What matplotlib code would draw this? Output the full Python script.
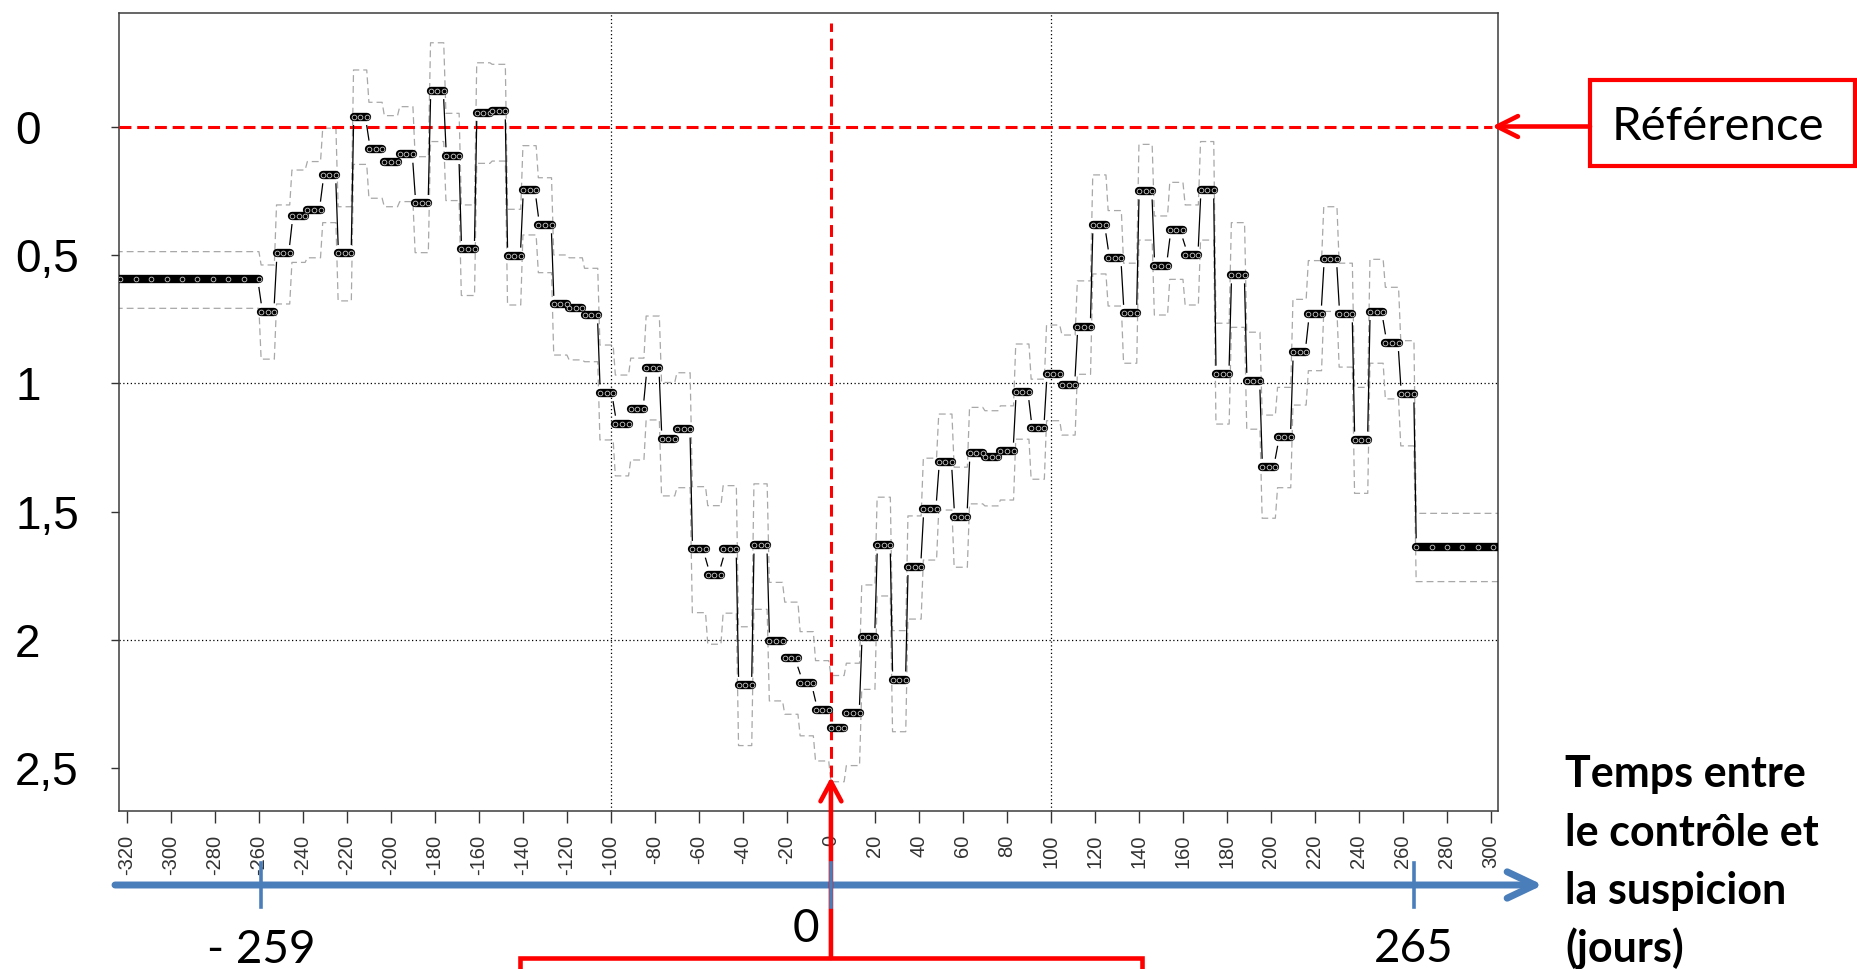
import matplotlib
matplotlib.use('Agg')
import matplotlib.pyplot as plt
from matplotlib import transforms
from matplotlib.patches import FancyArrowPatch, Rectangle, ArrowStyle
from matplotlib.lines import Line2D

W, H, DPI = 1858, 969, 100

# ---------------- data ----------------
# weekly bins (start day of each 7-day window)
week_start = [-259, -252, -245, -238, -231, -224, -217, -210, -203, -196,
              -189, -182, -175, -168, -161, -154, -147, -140, -133, -126,
              -119, -112, -105, -98, -91, -84, -77, -70, -63, -56,
              -49, -42, -35, -28, -21, -14, -7, 0, 7, 14,
              21, 28, 35, 42, 49, 56, 63, 70, 77, 84,
              91, 98, 105, 112, 119, 126, 133, 140, 147, 154,
              161, 168, 175, 182, 189, 196, 203, 210, 217, 224,
              231, 238, 245, 252, 259]
estimate = [0.721, 0.494, 0.347, 0.325, 0.188, 0.494, -0.039, 0.087, 0.136, 0.108,
            0.299, -0.140, 0.113, 0.478, -0.055, -0.061, 0.504, 0.247, 0.383, 0.692,
            0.708, 0.734, 1.037, 1.159, 1.100, 0.942, 1.217, 1.179, 1.647, 1.747,
            1.647, 2.177, 1.631, 2.004, 2.072, 2.167, 2.273, 2.342, 2.286, 1.987,
            1.631, 2.156, 1.715, 1.490, 1.305, 1.520, 1.273, 1.286, 1.264, 1.033,
            1.176, 0.962, 1.006, 0.779, 0.383, 0.511, 0.727, 0.251, 0.542, 0.403,
            0.500, 0.247, 0.964, 0.578, 0.992, 1.327, 1.211, 0.879, 0.730, 0.515,
            0.730, 1.221, 0.721, 0.842, 1.042]
ci_low = [0.539, 0.305, 0.169, 0.136, 0.006, 0.312, -0.221, -0.095, -0.043, -0.078,
          0.117, -0.327, -0.052, 0.305, -0.249, -0.243, 0.322, 0.074, 0.199, 0.500,
          0.511, 0.552, 0.851, 0.968, 0.902, 0.738, 0.997, 0.959, 1.403, 1.477,
          1.399, 1.949, 1.392, 1.776, 1.853, 1.968, 2.081, 2.139, 2.091, 1.786,
          1.444, 1.964, 1.517, 1.292, 1.120, 1.327, 1.094, 1.107, 1.088, 0.847,
          0.984, 0.773, 0.812, 0.601, 0.188, 0.327, 0.532, 0.069, 0.348, 0.217,
          0.305, 0.058, 0.766, 0.374, 0.801, 1.124, 1.016, 0.673, 0.522, 0.312,
          0.532, 1.016, 0.517, 0.626, 0.834]
ci_high = [0.906, 0.691, 0.529, 0.511, 0.374, 0.679, 0.147, 0.279, 0.312, 0.292,
           0.491, 0.058, 0.288, 0.658, 0.143, 0.134, 0.695, 0.422, 0.569, 0.890,
           0.909, 0.916, 1.221, 1.361, 1.299, 1.143, 1.439, 1.407, 1.894, 2.017,
           1.896, 2.412, 1.881, 2.238, 2.290, 2.374, 2.472, 2.553, 2.490, 2.193,
           1.829, 2.358, 1.919, 1.689, 1.494, 1.717, 1.470, 1.478, 1.455, 1.218,
           1.374, 1.146, 1.202, 0.965, 0.574, 0.699, 0.922, 0.442, 0.734, 0.595,
           0.695, 0.442, 1.159, 0.782, 1.179, 1.526, 1.407, 1.085, 0.951, 0.720,
           0.937, 1.429, 0.922, 1.061, 1.244]
week_len = 7

# flat periods before / after the studied window
pre_days = [-330, -260]
pre_estimate, pre_low, pre_high = 0.592, 0.487, 0.708
post_days = [266, 310]
post_estimate, post_low, post_high = 1.637, 1.507, 1.773

x_ticks = [-320, -300, -280, -260, -240, -220, -200, -180, -160, -140, -120, -100,
           -80, -60, -40, -20, 0, 20, 40, 60, 80, 100, 120, 140, 160, 180, 200,
           220, 240, 260, 280, 300]
y_ticks = [0, 0.5, 1, 1.5, 2, 2.5]
y_tick_labels = ['0', '0,5', '1', '1,5', '2', '2,5']
grid_x = [-100, 100]
grid_y = [1, 2]
ref_value = 0
event_day = 0
period_marks = [-259, 0, 265]
period_labels = ['- 259', '0', '265']
ref_label = 'Référence'
axis_title = ['Temps entre', 'le contrôle et', 'la suspicion', '(jours)']

# ---------------- figure ----------------
fig = plt.figure(figsize=(W / DPI, H / DPI), dpi=DPI)
fx = lambda px: px / W
fy = lambda py: 1 - py / H
ax = fig.add_axes([fx(119), fy(811), (1498 - 119) / W, (811 - 13) / H])
ax.set_xlim(-323.6, 303.2)
ax.set_ylim(2.667, -0.443)

# grid (dotted)
for g in grid_y:
    ax.axhline(g, color='black', lw=0.9, ls=(0, (1, 2)), zorder=1)
for g in grid_x:
    ax.axvline(g, color='black', lw=0.9, ls=(0, (1, 2)), zorder=1)

# confidence interval (gray dashed step lines)
def step_path(pre, vals, post):
    xs = [pre_days[0], pre_days[1]]
    ys = [pre, pre]
    for s, v in zip(week_start, vals):
        xs += [s, s + week_len - 1]
        ys += [v, v]
    xs += [post_days[0], post_days[1]]
    ys += [post, post]
    return xs, ys

for pre, vals, post in [(pre_low, ci_low, post_low), (pre_high, ci_high, post_high)]:
    xs, ys = step_path(pre, vals, post)
    ax.plot(xs, ys, color='#a8a8a8', lw=0.9, ls=(0, (5.5, 3.2)), zorder=2)

# red reference lines
ax.axhline(ref_value, xmax=0.996, color='#ff0000', lw=2.2, ls=(0, (3.9, 1.9)), zorder=3)
ax.axvline(event_day, ymin=0.043, ymax=0.987, color='#ff0000', lw=2.2,
           ls=(0, (3.9, 2.2)), zorder=3)

# estimate: thin connectors (with gaps near the points, like R type "b")
levels = [pre_estimate] + estimate + [post_estimate]
ends = [pre_days[1]] + [s + week_len - 1 for s in week_start]
starts = week_start + [post_days[0]]
gap = 0.035
for i in range(len(levels) - 1):
    v0, v1 = levels[i], levels[i + 1]
    if abs(v1 - v0) <= 2 * gap:
        continue
    sgn = 1 if v1 > v0 else -1
    ax.plot([ends[i], starts[i]], [v0 + sgn * gap, v1 - sgn * gap],
            color='black', lw=0.9, zorder=4)

bar_lw = 6.0
ax.plot(pre_days, [pre_estimate] * 2, color='black', lw=bar_lw,
        solid_capstyle='round', zorder=5)
ax.plot(post_days, [post_estimate] * 2, color='black', lw=bar_lw,
        solid_capstyle='round', zorder=5)
mx, my = [], []
for s, v in zip(week_start, estimate):
    ax.plot([s, s + week_len - 1], [v, v], color='black', lw=bar_lw,
            solid_capstyle='round', zorder=5)
    for d in (0, 3, 6):
        mx.append(s + d)
        my.append(v)
d = pre_days[1]
while d > pre_days[0]:
    mx.append(d); my.append(pre_estimate); d -= week_len
d = post_days[0]
while d < post_days[1]:
    mx.append(d); my.append(post_estimate); d += week_len
ax.plot(mx, my, ls='none', marker='o', ms=3.4, mfc='black', mec='#c8c8c8',
        mew=0.6, zorder=6)

# axes styling
for sp in ax.spines.values():
    sp.set_color('#3c3c3c')
    sp.set_linewidth(1.1)
ax.set_xticks(x_ticks)
ax.set_xticklabels([str(t) for t in x_ticks], rotation=90,
                   fontfamily='Liberation Sans', fontsize=14.5, color='#333333')
ax.tick_params(axis='x', length=8.6, width=1.0, pad=8.5, color='#333333')
ax.set_yticks(y_ticks)
ax.set_yticklabels(y_tick_labels, fontfamily='Liberation Sans', fontsize=33,
                   color='black')
for lab in ax.get_yticklabels():
    lab.set_horizontalalignment('left')
ax.tick_params(axis='y', length=5.8, width=1.0, pad=69, color='#333333')

# ---------------- annotations ----------------
blend = transforms.blended_transform_factory(ax.transData, fig.transFigure)
blue = '#4a7ebb'
red = '#ff0000'

# time axis arrow (blue)
fig.add_artist(FancyArrowPatch((fx(115), fy(885)), (fx(1543), fy(885)),
                               transform=fig.transFigure,
                               arrowstyle=ArrowStyle('->', head_length=20, head_width=9.5),
                               mutation_scale=1, lw=5, color=blue,
                               shrinkA=0, shrinkB=0, capstyle='round',
                               joinstyle='round'))
for m in period_marks:
    fig.add_artist(Line2D([m, m], [fy(863), fy(907)], transform=blend,
                          color=blue, lw=2.6))

label_pos = {'- 259': (0, 963), '0': (-11.5, 942), '265': (0, 962)}
for m, lab in zip(period_marks, period_labels):
    dx, base = label_pos[lab]
    fig.text(m + dx, fy(base), lab, transform=blend, ha='center', va='baseline',
             fontfamily='Lato', fontsize=33, color='black')

# red arrow from bottom box to event day
fig.add_artist(FancyArrowPatch((event_day, fy(958)), (event_day, fy(777)),
                               transform=blend,
                               arrowstyle=ArrowStyle('->', head_length=14, head_width=7.5),
                               mutation_scale=1, lw=3.3, color=red,
                               shrinkA=0, shrinkB=0, capstyle='round',
                               joinstyle='round'))
fig.add_artist(Rectangle((fx(520), fy(1010)), (1142 - 520) / W, (1010 - 958) / H,
                         transform=fig.transFigure, fill=False, edgecolor=red,
                         lw=3.3))

# reference box + arrow
fig.add_artist(Rectangle((fx(1590), fy(166)), (1855 - 1590) / W, (166 - 80) / H,
                         transform=fig.transFigure, facecolor='white',
                         edgecolor=red, lw=3.0))
fig.add_artist(FancyArrowPatch((fx(1590), fy(126.5)), (fx(1492), fy(126.5)),
                               transform=fig.transFigure,
                               arrowstyle=ArrowStyle('->', head_length=15, head_width=7.5),
                               mutation_scale=1, lw=3.3, color=red,
                               shrinkA=0, shrinkB=0, capstyle='round',
                               joinstyle='round'))
fig.text(fx(1612), fy(140), ref_label, ha='left', va='baseline',
         fontfamily='Lato', fontsize=34, color='black')

# axis title (bold)
for line, base in zip(axis_title, [787, 846, 904, 962]):
    fig.text(fx(1565), fy(base), line, ha='left', va='baseline',
             fontfamily='Lato', fontweight='bold', fontsize=31, color='black')

fig.savefig('out.png', dpi=DPI)
